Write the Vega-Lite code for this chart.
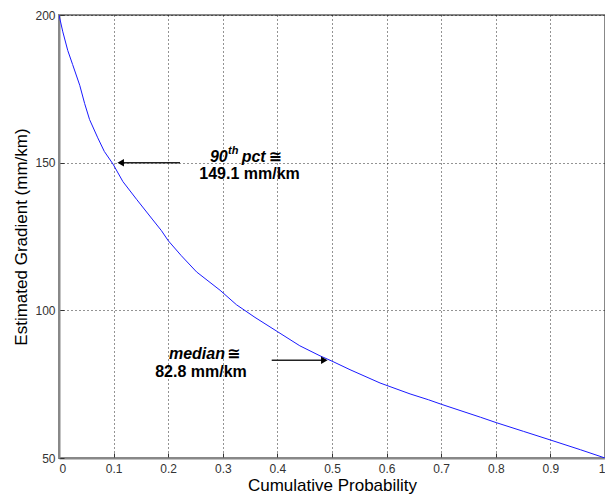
{
  "$schema": "https://vega.github.io/schema/vega-lite/v6.json",
  "width": 546,
  "height": 443,
  "autosize": {"type": "none"},
  "padding": {"left": 59, "top": 15, "right": 0, "bottom": 39},
  "background": "white",
  "config": {
    "view": {"stroke": "#888888", "strokeWidth": 2},
    "font": "Liberation Sans",
    "axis": {
      "domainColor": "#888888",
      "domainWidth": 2,
      "grid": true,
      "gridColor": "#000000",
      "gridDash": [1, 3],
      "gridOpacity": 0.85,
      "gridWidth": 1,
      "ticks": true,
      "tickSize": -5,
      "tickColor": "#333333",
      "tickWidth": 1,
      "labelFont": "Liberation Sans",
      "labelFontSize": 12,
      "labelColor": "#333333",
      "titleFont": "Liberation Sans",
      "titleFontWeight": "normal",
      "titleColor": "#000000"
    }
  },
  "layer": [
    {
      "data": {"values": [
        {"p": 0, "v": 200},
        {"p": 0.007, "v": 194.3},
        {"p": 0.016, "v": 188.0},
        {"p": 0.025, "v": 183.2},
        {"p": 0.038, "v": 176.2},
        {"p": 0.047, "v": 170.0},
        {"p": 0.056, "v": 164.6},
        {"p": 0.071, "v": 158.4},
        {"p": 0.083, "v": 153.8},
        {"p": 0.099, "v": 149.5},
        {"p": 0.117, "v": 143.6},
        {"p": 0.142, "v": 137.6},
        {"p": 0.172, "v": 130.6},
        {"p": 0.1875, "v": 127.0},
        {"p": 0.2, "v": 123.6},
        {"p": 0.224, "v": 118.5},
        {"p": 0.252, "v": 113.0},
        {"p": 0.295, "v": 106.8},
        {"p": 0.325, "v": 101.9},
        {"p": 0.359, "v": 97.6},
        {"p": 0.4, "v": 92.8},
        {"p": 0.441, "v": 88.0},
        {"p": 0.478, "v": 84.6},
        {"p": 0.5, "v": 82.8},
        {"p": 0.533, "v": 79.9},
        {"p": 0.588, "v": 75.4},
        {"p": 0.643, "v": 71.7},
        {"p": 0.677, "v": 69.7},
        {"p": 0.7, "v": 68.2},
        {"p": 0.772, "v": 63.8},
        {"p": 0.802, "v": 61.9},
        {"p": 0.851, "v": 59.0},
        {"p": 0.9, "v": 56.1},
        {"p": 0.955, "v": 52.8},
        {"p": 1.0, "v": 50.0}
      ]},
      "mark": {"type": "line", "color": "#1a1aff", "strokeWidth": 1, "clip": true},
      "encoding": {
        "x": {
          "field": "p", "type": "quantitative",
          "scale": {"domain": [0, 1], "nice": false, "zero": false},
          "axis": {"title": "Cumulative Probability", "titleFontSize": 17, "values": [0, 0.1, 0.2, 0.3, 0.4, 0.5, 0.6, 0.7, 0.8, 0.9, 1], "format": "~g", "labelPadding": 10, "titlePadding": 3}
        },
        "y": {
          "field": "v", "type": "quantitative",
          "scale": {"domain": [50, 200], "nice": false, "zero": false},
          "axis": {"title": "Estimated Gradient (mm/km)", "titleFontSize": 17, "values": [50, 100, 150, 200], "labelPadding": 9, "titlePadding": 4}
        }
      }
    },
    {
      "data": {"values": [
        {"p1": 0.113, "p2": 0.2216, "v": 150.0},
        {"p1": 0.3896, "p2": 0.4859, "v": 83.07}
      ]},
      "mark": {"type": "rule", "color": "#222222", "strokeWidth": 1.5},
      "encoding": {
        "x": {"field": "p1", "type": "quantitative"},
        "x2": {"field": "p2"},
        "y": {"field": "v", "type": "quantitative"}
      }
    },
    {
      "data": {"values": [
        {"p": 0.113, "v": 150.0, "dir": "triangle-left"},
        {"p": 0.4859, "v": 83.07, "dir": "triangle-right"}
      ]},
      "mark": {"type": "point", "filled": true, "color": "#000000", "size": 56, "opacity": 1},
      "encoding": {
        "x": {"field": "p", "type": "quantitative"},
        "y": {"field": "v", "type": "quantitative"},
        "shape": {"field": "dir", "type": "nominal", "scale": {"domain": ["triangle-left", "triangle-right"], "range": ["triangle-left", "triangle-right"]}, "legend": null}
      }
    },
    {
      "data": {"values": [
        {"p": 0.3489, "v": 146.06, "t": "149.1 mm/km"},
        {"p": 0.26, "v": 79.24, "t": "82.8 mm/km"}
      ]},
      "mark": {"type": "text", "font": "Liberation Sans", "fontSize": 16, "fontWeight": "bold", "align": "center", "baseline": "middle", "color": "#000000"},
      "encoding": {
        "x": {"field": "p", "type": "quantitative"},
        "y": {"field": "v", "type": "quantitative"},
        "text": {"field": "t"}
      }
    },
    {
      "data": {"values": [
        {"p": 0.309, "v": 151.91, "t": "90"},
        {"p": 0.304, "v": 85.1, "t": "median"}
      ]},
      "mark": {"type": "text", "font": "Liberation Sans", "fontSize": 16, "fontWeight": "bold", "fontStyle": "italic", "align": "right", "baseline": "middle", "color": "#000000"},
      "encoding": {
        "x": {"field": "p", "type": "quantitative"},
        "y": {"field": "v", "type": "quantitative"},
        "text": {"field": "t"}
      }
    },
    {
      "data": {"values": [
        {"p": 0.3346, "v": 151.91, "t": "pct"}
      ]},
      "mark": {"type": "text", "font": "Liberation Sans", "fontSize": 16, "fontWeight": "bold", "fontStyle": "italic", "align": "left", "baseline": "middle", "color": "#000000"},
      "encoding": {
        "x": {"field": "p", "type": "quantitative"},
        "y": {"field": "v", "type": "quantitative"},
        "text": {"field": "t"}
      }
    },
    {
      "data": {"values": [
        {"p": 0.3095, "v": 153.9, "t": "th"}
      ]},
      "mark": {"type": "text", "font": "Liberation Sans", "fontSize": 11, "fontWeight": "bold", "fontStyle": "italic", "align": "left", "baseline": "middle", "color": "#000000"},
      "encoding": {
        "x": {"field": "p", "type": "quantitative"},
        "y": {"field": "v", "type": "quantitative"},
        "text": {"field": "t"}
      }
    },
    {
      "data": {"values": [
        {"p": 0.3835, "v": 151.91, "t": "≅"},
        {"p": 0.3077, "v": 85.1, "t": "≅"}
      ]},
      "mark": {"type": "text", "font": "DejaVu Sans", "fontSize": 16, "fontWeight": "bold", "align": "left", "baseline": "middle", "color": "#000000"},
      "encoding": {
        "x": {"field": "p", "type": "quantitative"},
        "y": {"field": "v", "type": "quantitative"},
        "text": {"field": "t"}
      }
    }
  ]
}
